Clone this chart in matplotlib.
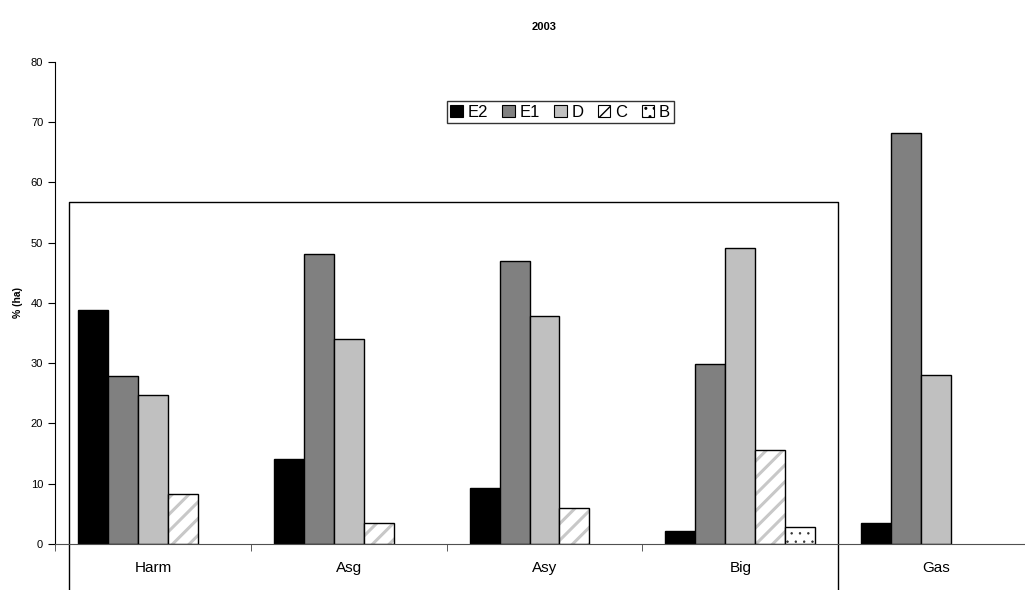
import matplotlib
matplotlib.use('agg')
import matplotlib.pyplot as plt
from matplotlib.patches import Patch
import numpy as np

plt.rcParams['font.family'] = ['Liberation Sans', 'DejaVu Sans']

# data
categories = ['Harm', 'Asg', 'Asy', 'Big', 'Gas']
series = ['E2', 'E1', 'D', 'C', 'B']
e2 = [38.9, 14.1, 9.3, 2.2, 3.4]
e1 = [27.9, 48.1, 47.0, 29.9, 68.2]
d = [24.8, 34.1, 37.8, 49.1, 28.1]
c = [8.3, 3.5, 6.0, 15.6, 0]
b = [0, 0, 0, 2.9, 0]
values = [e2, e1, d, c, b]

# styles for each series
faces = ['black', '#808080', '#c0c0c0', 'white', 'white']
hatches = [None, None, None, '//', '..']
hatch_cols = [None, None, None, '#c8c8c8', '#303030']
hatch_lw = [1, 1, 1, 2.2, 0.5]

fig = plt.figure(figsize=(10.25, 5.9), dpi=100)
# axis runs a little past the right edge of the picture
ax = fig.add_axes([0.0537, 0.078, 0.955, 0.817])

n = len(categories)
x = np.arange(n) + 0.5
w = 0.153

for j, name in enumerate(series):
    pos = x + (j - 2) * w
    vals = np.array(values[j])
    keep = vals > 0
    if hatches[j]:
        plt.rcParams['hatch.linewidth'] = hatch_lw[j]
        ax.bar(pos[keep], vals[keep], w, color='white', edgecolor=hatch_cols[j],
               hatch=hatches[j], linewidth=0)
        ax.bar(pos[keep], vals[keep], w, fill=False, edgecolor='black', linewidth=1.0)
    else:
        ax.bar(pos[keep], vals[keep], w, color=faces[j], edgecolor='black', linewidth=1.0)

ax.set_xlim(0, n)
ax.set_ylim(0, 80)
ax.set_yticks(np.arange(0, 81, 10))
ax.set_xticks(x)
ax.set_xticklabels(categories, fontsize=11)
ax.set_xticks(np.arange(0, n + 1), minor=True)
ax.tick_params(axis='x', which='major', length=0, pad=12)
ax.tick_params(axis='x', which='minor', length=5, direction='out', color='#404040')
ax.tick_params(axis='y', labelsize=8, length=5, direction='out')

ax.spines['top'].set_visible(False)
ax.spines['right'].set_visible(False)
ax.spines['bottom'].set_color('#505050')
ax.set_ylabel('% (ha)', fontsize=7.5, fontweight='bold', labelpad=6)
ax.set_title('2003', fontsize=8, fontweight='bold', pad=23)

# box around the first four groups, reaching down past the axis
box_left, box_right, box_top, box_bottom = 0.0715, 4.0, 56.7, -7.7
ax.plot([box_left, box_left, box_right, box_right],
        [box_bottom, box_top, box_top, box_bottom],
        color='black', linewidth=1.0, clip_on=False)

plt.rcParams['hatch.linewidth'] = 1.0
handles = []
for j, name in enumerate(series):
    if hatches[j]:
        handles.append(Patch(facecolor='white', edgecolor='black', hatch=hatches[j],
                             linewidth=0.8, label=name))
    else:
        handles.append(Patch(facecolor=faces[j], edgecolor='black', linewidth=0.8, label=name))
leg = ax.legend(handles=handles, loc='center', bbox_to_anchor=(0.5160, 0.896),
                ncol=5, fontsize=12, frameon=True, fancybox=False, edgecolor='black',
                handlelength=0.75, handleheight=0.75, handletextpad=0.3,
                columnspacing=0.85, borderpad=0.2, borderaxespad=0)
leg.get_frame().set_linewidth(1.0)

fig.savefig('out.png', dpi=100)
